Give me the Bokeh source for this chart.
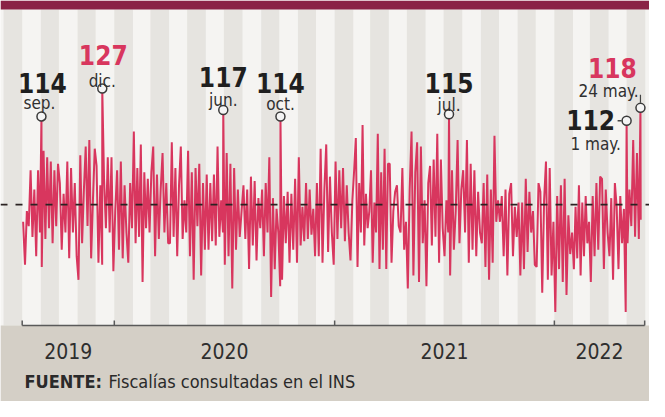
import pandas as pd
from bokeh.plotting import figure
from bokeh.models import ColumnDataSource, Span
from bokeh.core.properties import value
from bokeh.embed import file_html
from bokeh.resources import INLINE

# ---------------- data ----------------
series_start = "2019-08-01"
series_end = "2022-05-26"

# readings roughly every three days, one list per month
values_2019 = [
    [65, 45, 70, 63, 89, 58, 80, 49, 89, 60],          # ago
    [44, 98, 57, 95, 62, 93, 55, 89, 63, 92],          # sep
    [83, 52, 78, 60, 93, 48, 90, 60, 83, 49],          # oct
    [38, 96, 55, 80, 100, 63, 103, 48, 75, 99],        # nov
    [91, 46, 82, 45, 85, 62, 95, 60, 95, 42],          # dic
]
values_2020 = [
    [70, 89, 52, 93, 48, 82, 60, 46, 83, 62],
    [107, 55, 90, 58, 101, 37, 88, 62, 85, 60],
    [88, 100, 49, 87, 57, 80, 97, 60, 83, 55],
    [55, 102, 58, 90, 49, 82, 100, 57, 75, 60],
    [98, 49, 88, 38, 90, 63, 92, 40, 83, 52],
    [87, 52, 83, 56, 87, 54, 100, 58, 75, 60],
    [45, 97, 49, 92, 34, 90, 52, 80, 58, 70],
    [82, 57, 80, 43, 86, 54, 84, 47, 76, 62],
    [80, 49, 83, 60, 95, 30, 76, 43, 71, 60],
    [35, 38, 77, 55, 79, 46, 78, 52, 85, 46],
    [95, 54, 72, 56, 83, 57, 80, 59, 71, 49],
    [83, 49, 99, 46, 80, 101, 51, 86, 60, 45],
]
values_2021 = [
    [93, 57, 89, 62, 90, 56, 82, 60, 47, 75],
    [89, 104, 44, 83, 60, 110, 54, 78, 62, 70],
    [89, 46, 74, 60, 106, 43, 88, 52, 99, 43, 92],
    [92, 46, 70, 79, 82, 63, 60, 90, 52, 65],
    [34, 80, 107, 40, 88, 102, 37, 100, 55, 75],
    [35, 83, 91, 54, 94, 58, 106, 46, 94, 62],
    [49, 75, 60, 40, 89, 52, 70, 103, 55, 80],
    [89, 60, 103, 46, 92, 52, 89, 49, 79, 60],
    [55, 83, 44, 87, 38, 80, 46, 105, 65, 75],
    [65, 77, 49, 80, 40, 78, 83, 49, 72, 58],
    [74, 40, 74, 43, 85, 51, 79, 60, 70, 45],
    [44, 83, 79, 32, 75, 93, 38, 90, 40, 65],
]
values_2022 = [
    [23, 77, 43, 82, 37, 85, 31, 68, 50, 60],
    [43, 72, 48, 82, 40, 74, 49, 77, 55, 65],
    [37, 77, 49, 83, 52, 86, 85, 43, 80, 60],
    [49, 76, 38, 83, 72, 43, 77, 55, 71, 23],
    [55, 80, 63, 103, 58, 97, 57, 66],
]

peak_dates = ["2019-09-02", "2019-12-12", "2020-06-30", "2020-10-03",
              "2021-07-10", "2022-05-01", "2022-05-24"]
peak_values = [114, 127, 117, 114, 115, 112, 118]
peak_labels = ["sep.", "dic.", "jun.", "oct.", "jul.", "1 may.", "24 may."]
peak_highlight = [False, True, False, False, False, False, True]

mean_value = 73
axis_ticks = ["2019-08-01", "2020-01-01", "2021-01-01", "2022-01-01", "2022-05-31"]
year_labels = ["2019", "2020", "2021", "2022"]
source_bold = "FUENTE:"
source_rest = "Fiscalías consultadas en el INS"

# ---------------- layout / style ----------------
W, H = 649, 401
PX_PER_UNIT = 2.15
Y_TOP = 127 + (96 - 8) / PX_PER_UNIT
Y_BOT = Y_TOP - H / PX_PER_UNIT
UPP = 1 / PX_PER_UNIT
DAY_MS = 86400000.0
PX_PER_DAY = 0.602
MS_PER_PX = DAY_MS / PX_PER_DAY
t0 = pd.Timestamp(series_start).value / 1e6
X_START = t0 - 21.7 * MS_PER_PX
X_END = X_START + W * MS_PER_PX

def vy(page_y):
    return 127 - (page_y - 96) / PX_PER_UNIT

AXIS_Y = vy(333)
BAND_TOP = vy(17)

RED = "#d8365e"
INK = "#1f1f1f"
COND = value("DejaVu Sans Condensed")

def ms(d):
    return pd.Timestamp(d).value / 1e6

# ---------------- build series ----------------
month_lists = values_2019 + values_2020 + values_2021 + values_2022
end = pd.Timestamp(series_end)
m = pd.Timestamp(series_start)
pts = []
for vals in month_lists:
    nxt = m + pd.offsets.MonthBegin(1)
    stop = min(nxt, end)
    step = (stop - m) / len(vals)
    for i, v in enumerate(vals):
        pts.append(((m + step * (i + 0.5)).value / 1e6, v))
    m = nxt
peak_x = [ms(d) for d in peak_dates]
pts += list(zip(peak_x, peak_values))
pts.sort()
line_x = [a for a, _ in pts]
line_y = [b for _, b in pts]

p = figure(width=W, height=H, x_range=(X_START, X_END), y_range=(Y_BOT, Y_TOP),
           output_backend="svg", toolbar_location=None, min_border=0)
p.axis.visible = False
p.grid.visible = False
p.outline_line_color = None
p.background_fill_color = "#f5f4f2"
p.border_fill_color = "#f5f4f2"

# alternate month stripes
lefts, rights = [], []
mm = pd.Timestamp("2019-07-01")
while mm < pd.Timestamp("2022-07-01"):
    nx = mm + pd.offsets.MonthBegin(1)
    if mm.month % 2 == 1:
        lefts.append(mm.value / 1e6)
        rights.append(nx.value / 1e6)
    mm = nx
p.quad(left=lefts, right=rights, bottom=AXIS_Y, top=BAND_TOP,
       fill_color="#e6e4e0", line_color=None)

# top band and bottom band
p.quad(left=[X_START], right=[X_END], bottom=[BAND_TOP], top=[Y_TOP],
       fill_color="#8a2246", line_color=None)
p.quad(left=[X_START], right=[X_END], bottom=[Y_BOT], top=[AXIS_Y],
       fill_color="#d4cfc6", line_color=None)

# series line
p.line(line_x, line_y, line_color=RED, line_width=2.0)

# mean dashed line
p.add_layout(Span(location=mean_value, dimension="width", line_color="#2b2222",
                  line_width=1.6, line_dash="7 8"))

# axis line and ticks
tick_x = [ms(d) for d in axis_ticks]
p.segment(x0=[tick_x[0]], x1=[tick_x[-1]], y0=[AXIS_Y], y1=[AXIS_Y],
          line_color="#5a5a5a", line_width=1.5)
p.segment(x0=tick_x, x1=tick_x, y0=[AXIS_Y] * len(tick_x),
          y1=[AXIS_Y + 5 * UPP] * len(tick_x), line_color="#5a5a5a", line_width=1.5)

# year labels centered between ticks
mid_x = [(a + b) / 2 for a, b in zip(tick_x[:-1], tick_x[1:])]
p.text(mid_x, [vy(358)] * len(mid_x), text=year_labels, text_align="center",
       text_baseline="middle", text_font=COND, text_font_size="21px",
       text_color="#2e2e2e")

# source
p.text([X_START], [vy(389)], text=[source_bold], x_offset=24, text_align="left",
       text_baseline="middle", text_font=COND, text_font_size="18px",
       text_font_style="bold", text_color="#2a2a2a")
p.text([X_START], [vy(389)], text=[source_rest], x_offset=108, text_align="left",
       text_baseline="middle", text_font=COND, text_font_size="18px",
       text_color="#2a2a2a")

# peak annotations
num_dx = [1, 1, 0, 0, 0, -36, -28]
num_dy = [-33, -34, -33, -33, -31, -1, -40]
lab_dx = [-2, 0, 0, 0, 0, -31, -32]
lab_dy = [-13, -8, -10, -12, -9, 23, -17]
src = ColumnDataSource(dict(
    x=peak_x, y=peak_values,
    num=[str(v) for v in peak_values], lab=peak_labels,
    col=[RED if h else INK for h in peak_highlight],
    ndx=num_dx, ndy=num_dy, ldx=lab_dx, ldy=lab_dy))

i1, i2 = 5, 6
p.segment(x0=[peak_x[i2]], x1=[peak_x[i2]], y0=[peak_values[i2] + 5 * UPP],
          y1=[peak_values[i2] + 13 * UPP], line_color="#444", line_width=1.2)
p.segment(x0=[peak_x[i1] - 9 * MS_PER_PX], x1=[peak_x[i1] - 5 * MS_PER_PX],
          y0=[peak_values[i1]], y1=[peak_values[i1]], line_color="#444", line_width=1.5)

p.scatter("x", "y", source=src, size=9, marker="circle", fill_color="#f4f4f4",
          line_color="#3a3a3a", line_width=1.5)
p.text("x", "y", text="num", source=src, x_offset="ndx", y_offset="ndy",
       text_align="center", text_baseline="alphabetic", text_font=COND,
       text_font_size="26px", text_font_style="bold", text_color="col")
p.text("x", "y", text="lab", source=src, x_offset="ldx", y_offset="ldy",
       text_align="center", text_baseline="alphabetic", text_font=COND,
       text_font_size="17px", text_color="#303030")

open("out.html", "w").write(file_html(p, INLINE))
